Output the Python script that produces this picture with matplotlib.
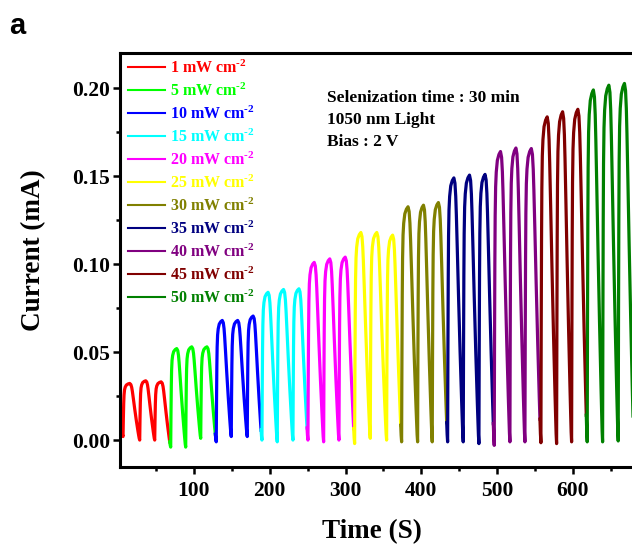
import numpy as np
import matplotlib.pyplot as plt
from matplotlib.ticker import MultipleLocator

plt.rcParams['font.family'] = 'Liberation Serif'
plt.rcParams['font.weight'] = 'bold'
plt.rcParams['mathtext.fontset'] = 'custom'
plt.rcParams['mathtext.rm'] = 'Liberation Serif:bold'
plt.rcParams['mathtext.bf'] = 'Liberation Serif:bold'
plt.rcParams['mathtext.default'] = 'bf'

# light intensity of each block (3 on/off cycles each)
intensity = [1, 5, 10, 15, 20, 25, 30, 35, 40, 45, 50]
colors = ['#ff0000', '#00ff00', '#0000ff', '#00ffff', '#ff00ff', '#ffff00',
          '#808000', '#000080', '#800080', '#800000', '#008000']

# time of each current minimum (s); first one belongs to a pulse before the visible range
trough_t = [-14.0, 6.4, 28.4, 48.2, 69.3, 89.1, 108.9, 129.4, 149.2, 170.3, 189.7,
            209.9, 230.6, 250.4, 271.1, 291.3, 312.0, 332.6, 354.2, 374.0, 395.1,
            414.4, 434.7, 455.3, 476.0, 496.2, 516.9, 536.7, 557.8, 578.5, 598.3,
            618.9, 639.2, 659.8, 680.4]
# current at each minimum (mA)
trough_y = [0.0, 0.002, 0.0, 0.0, -0.004, -0.004, 0.001, -0.001, 0.002, 0.002, 0.0,
            -0.001, 0.0, 0.0, -0.001, 0.0, -0.002, 0.001, 0.0, -0.001, -0.001,
            -0.001, -0.001, -0.001, -0.002, -0.003, -0.001, -0.001, -0.0015, -0.002,
            -0.001, -0.001, -0.001, -0.0005, 0.0]
# peak current of each cycle (mA)
peaks = [0.030,
         0.0322, 0.0337, 0.0331,
         0.052, 0.053, 0.053,
         0.068, 0.068, 0.0705,
         0.084, 0.0856, 0.086,
         0.101, 0.103, 0.104,
         0.118, 0.118, 0.1165,
         0.1326, 0.1335, 0.135,
         0.149, 0.1506, 0.151,
         0.164, 0.166, 0.1657,
         0.1837, 0.1866, 0.188,
         0.199, 0.2017, 0.2027]

# shape of one on/off cycle (fraction of cycle, fraction of swing)
rise_phase = [0.00, 0.02, 0.04, 0.06, 0.09, 0.13, 0.20, 0.30, 0.40]
rise_level = [0.00, 0.35, 0.62, 0.78, 0.88, 0.93, 0.97, 0.99, 1.00]
fall_phase = [0.40, 0.47, 0.52, 0.56, 0.62, 0.70, 0.80, 0.90, 0.94, 0.97, 1.00]
fall_level = [0.00, 0.02, 0.07, 0.14, 0.27, 0.45, 0.66, 0.85, 0.92, 0.97, 1.00]

t_all, y_all, cyc, ph_all = [], [], [], []
for i, p in enumerate(peaks):
    t0, t1 = trough_t[i], trough_t[i + 1]
    for ph, lv in zip(rise_phase, rise_level):
        t_all.append(t0 + ph * (t1 - t0))
        y_all.append(trough_y[i] + lv * (p - trough_y[i]))
        cyc.append(i)
        ph_all.append(ph)
    for ph, lv in zip(fall_phase[1:-1], fall_level[1:-1]):
        t_all.append(t0 + ph * (t1 - t0))
        y_all.append(p - lv * (p - trough_y[i + 1]))
        cyc.append(i)
        ph_all.append(ph)
t_all.append(trough_t[-1])
y_all.append(trough_y[-1])
cyc.append(len(peaks))
ph_all.append(0.0)
t_all = np.array(t_all)
y_all = np.array(y_all)
cyc = np.array(cyc)
ph_all = np.array(ph_all)

fig = plt.figure(figsize=(6.32, 5.48), dpi=100)
ax = fig.add_axes([120 / 632, 81 / 548, 512 / 632, 414 / 548])

for s, (mw, c) in enumerate(zip(intensity, colors)):
    if s == 0:
        start = 0
    else:
        start = np.where((cyc == 3 * s) & (ph_all >= 0.94))[0][0]
    end_cyc = 3 * s + 3
    if s == len(intensity) - 1:
        end = len(t_all) - 1
    else:
        end = np.where((cyc == end_cyc) & (ph_all >= 0.94))[0][0]
    ax.plot(t_all[start:end + 1], y_all[start:end + 1], color=c, lw=2.3,
            label=f'{mw} mW cm$^{{\\text{{-2}}}}$', zorder=2 + s)

ax.set_xlim(2.4, 678)
ax.set_ylim(-0.0153, 0.22)
ax.xaxis.set_major_locator(MultipleLocator(100))
ax.xaxis.set_minor_locator(MultipleLocator(50))
ax.yaxis.set_major_locator(MultipleLocator(0.05))
ax.yaxis.set_minor_locator(MultipleLocator(0.025))
ax.yaxis.set_major_formatter(plt.FuncFormatter(lambda v, p: f'{v:.2f}'))
ax.tick_params(which='major', direction='out', length=5, width=1.8, labelsize=15.5)
ax.tick_params(axis='y', which='major', pad=2)
ax.tick_params(axis='x', which='major', pad=5)
ax.tick_params(which='minor', direction='out', length=3, width=1.8)
for side in ['left', 'bottom', 'top']:
    ax.spines[side].set_linewidth(2.2)
ax.spines['right'].set_visible(False)

ax.set_xlabel('Time (S)', fontsize=19.5, fontweight='bold')
ax.set_ylabel('Current (mA)', fontsize=19.5, fontweight='bold')
ax.xaxis.set_label_coords(0.492, -0.125)
ax.yaxis.set_label_coords(-0.145, 0.524)

leg = ax.legend(loc='upper left', bbox_to_anchor=(0.0156, 0.985), frameon=False,
                fontsize=11.5, handlelength=2.3, handletextpad=0.35,
                labelspacing=0.36, borderpad=0, borderaxespad=0, labelcolor='linecolor')
for h in leg.get_lines():
    h.set_linewidth(1.5)

ax.text(0.404, 0.891, 'Selenization time : 30 min', transform=ax.transAxes,
        fontsize=12.5, fontweight='bold', va='center')
ax.text(0.404, 0.838, '1050 nm Light', transform=ax.transAxes,
        fontsize=12.5, fontweight='bold', va='center')
ax.text(0.404, 0.786, 'Bias : 2 V', transform=ax.transAxes,
        fontsize=12.5, fontweight='bold', va='center')

fig.text(9 / 632, 1 - 34 / 548, 'a', fontsize=21, family='Liberation Sans',
         fontweight='bold', va='baseline')

fig.savefig('out.png', dpi=100)
